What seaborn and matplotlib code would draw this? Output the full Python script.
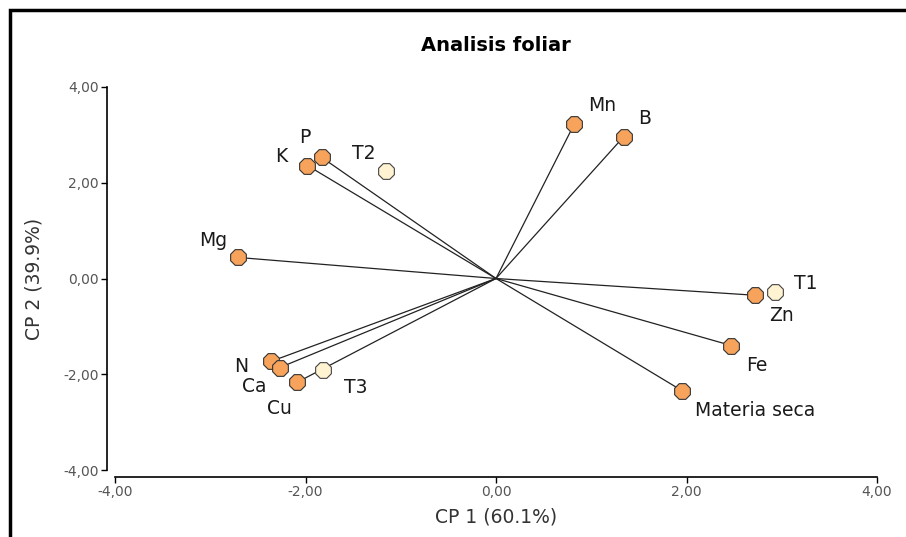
import matplotlib
matplotlib.use("Agg")
import matplotlib.pyplot as plt
import matplotlib.patches as mpatches
import seaborn as sns
import pandas as pd

sns.set_theme(style="white")
plt.rcParams['font.family'] = ['DejaVu Sans']

# Variables (loadings)
var_names = ["Mn", "B", "P", "K", "Mg", "Zn", "Fe", "Materia seca", "N", "Ca", "Cu"]
var_x = [0.82, 1.34, -1.83, -1.98, -2.71, 2.72, 2.47, 1.95, -2.36, -2.27, -2.09]
var_y = [3.22, 2.96, 2.53, 2.36, 0.44, -0.35, -1.40, -2.34, -1.73, -1.86, -2.17]

# Treatments (scores)
trt_names = ["T1", "T2", "T3"]
trt_x = [2.93, -1.15, -1.82]
trt_y = [-0.29, 2.25, -1.92]

# Label offsets in pixels (dx, dy), ha
label_offsets = {
    "Mn": (28, 19, "center"), "B": (21, 18, "center"), "P": (-17, 20, "center"),
    "K": (-26, 9, "center"), "Mg": (-25, 17, "center"), "Zn": (26, -20, "center"),
    "Fe": (26, -20, "center"), "Materia seca": (13, -20, "left"),
    "N": (-30, -5, "center"), "Ca": (-26, -19, "center"), "Cu": (-17, -26, "center"),
    "T1": (31, 9, "center"), "T2": (-23, 17, "center"), "T3": (33, -17, "center"),
}

xticks = [-4, -2, 0, 2, 4]
yticks = [-4, -2, 0, 2, 4]
tick_labels = ["-4,00", "-2,00", "0,00", "2,00", "4,00"]

fig = plt.figure(figsize=(9.06, 5.37), dpi=100)
ax = fig.add_axes([115/906, 67/537, 762/906, 383/537])

# frame around figure (left and top visible)
fig.patches.append(mpatches.Rectangle((10/906, -0.05), 1.2, 1 - 10/537 + 0.05,
                                      transform=fig.transFigure, fill=False,
                                      edgecolor="black", linewidth=2.5))

for vx, vy in zip(var_x, var_y):
    ax.plot([0, vx], [0, vy], color="#222222", linewidth=0.9, zorder=1)

df_var = pd.DataFrame({"x": var_x, "y": var_y, "name": var_names})
df_trt = pd.DataFrame({"x": trt_x, "y": trt_y, "name": trt_names})

sns.scatterplot(data=df_var, x="x", y="y", ax=ax, s=150, marker="8",
                color="#F7A35C", edgecolor="#333333", linewidth=0.8, zorder=3)
sns.scatterplot(data=df_trt, x="x", y="y", ax=ax, s=150, marker="8",
                color="#FFF3D2", edgecolor="#444444", linewidth=0.8, zorder=3)

for names, xs, ys in [(var_names, var_x, var_y), (trt_names, trt_x, trt_y)]:
    for n, x, y in zip(names, xs, ys):
        dx, dy, ha = label_offsets[n]
        ax.annotate(n, (x, y), xytext=(dx, dy), textcoords="offset pixels",
                    ha=ha, va="center", fontsize=13.5, color="#1a1a1a")

ax.set_xlim(-4, 4)
ax.set_ylim(-4, 4)
ax.set_xticks(xticks)
ax.set_xticklabels(tick_labels)
ax.set_yticks(yticks)
ax.set_yticklabels(tick_labels)
ax.tick_params(axis="both", labelsize=10, labelcolor="#555555", length=4,
               width=1, color="black", direction="out", bottom=True, left=True, pad=2)

for s in ["top", "right"]:
    ax.spines[s].set_visible(False)
ax.spines["left"].set_position(("outward", 5.8))
ax.spines["bottom"].set_position(("outward", 5.0))
ax.spines["left"].set_bounds(-4, 4)
ax.spines["bottom"].set_bounds(-4, 4)
for s in ["left", "bottom"]:
    ax.spines[s].set_color("black")
    ax.spines[s].set_linewidth(1.2)

ax.set_xlabel("CP 1 (60.1%)", fontsize=13.5, color="#333333", labelpad=6)
ax.set_ylabel("CP 2 (39.9%)", fontsize=13.5, color="#333333", labelpad=14)
ax.set_title("Analisis foliar", fontsize=14, fontweight="bold", color="black", pad=26)
ax.patch.set_alpha(0)

fig.savefig("out.png", dpi=100)
